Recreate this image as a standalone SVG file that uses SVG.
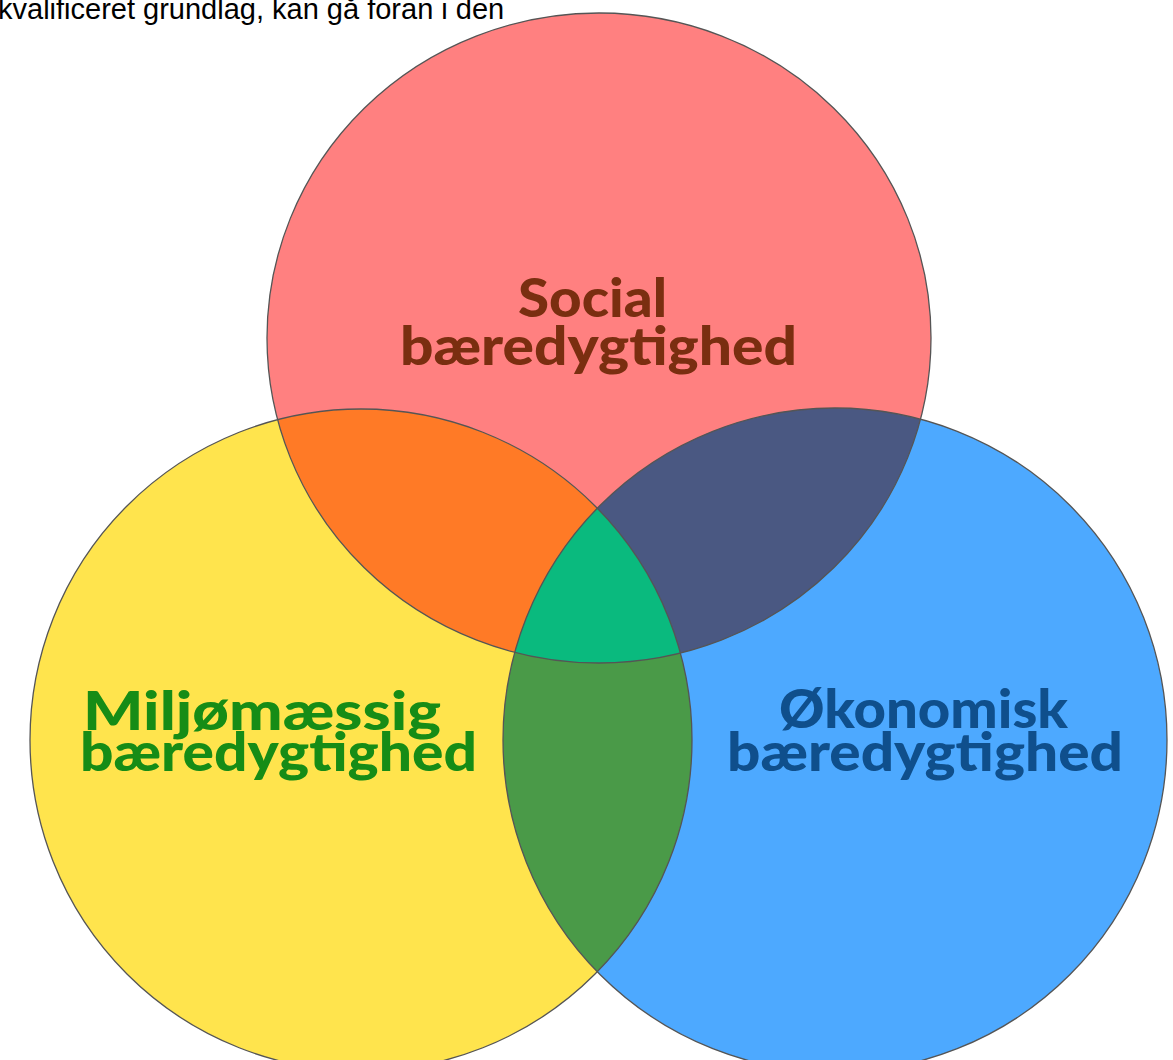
<svg xmlns="http://www.w3.org/2000/svg" width="1173" height="1060" viewBox="0 0 1173 1060">
  <style>
    .ring { fill: none; stroke: #555555; stroke-width: 1.3; }
    .label { font-family: Lato, "Open Sans", "Liberation Sans", sans-serif; font-weight: 900; font-size: 54px; text-anchor: middle; }
    .social { fill: #7a2e10; }
    .env { fill: #168c16; }
    .eco { fill: #0f4f8c; }
    .caption { font-family: "Liberation Sans", Arial, sans-serif; font-size: 29px; fill: #000; }
  </style>
  <defs>
    <ellipse id="c-social" cx="599" cy="338" rx="332" ry="325"/>
    <circle id="c-env" cx="361" cy="740" r="331"/>
    <circle id="c-eco" cx="835" cy="740" r="332"/>
    <clipPath id="clip-social"><use href="#c-social"/></clipPath>
    <clipPath id="clip-env"><use href="#c-env"/></clipPath>
    <clipPath id="clip-eco"><use href="#c-eco"/></clipPath>
  </defs>

  <rect width="1173" height="1060" fill="#ffffff"/>

  <text class="caption" x="-2" y="19">kvalificeret grundlag, kan gå foran i den</text>

  <!-- base discs -->
  <g id="node-social"><use href="#c-social" fill="#ff8080"/></g>
  <g id="node-env"><use href="#c-env" fill="#ffe44d"/></g>
  <g id="node-eco"><use href="#c-eco" fill="#4da9ff"/></g>

  <!-- pairwise and triple overlaps -->
  <g id="overlaps">
    <g clip-path="url(#clip-social)"><use href="#c-env" fill="#ff7a26"/></g>
    <g clip-path="url(#clip-social)"><use href="#c-eco" fill="#4a5882"/></g>
    <g clip-path="url(#clip-env)"><use href="#c-eco" fill="#4a9a48"/></g>
    <g clip-path="url(#clip-social)"><g clip-path="url(#clip-env)"><use href="#c-eco" fill="#0aba7e"/></g></g>
  </g>

  <!-- outlines -->
  <g id="outlines">
    <use href="#c-social" class="ring"/>
    <use href="#c-env" class="ring"/>
    <use href="#c-eco" class="ring"/>
  </g>

  <!-- labels -->
  <g id="label-social" class="label social">
    <text x="592.5" y="317" textLength="149" lengthAdjust="spacingAndGlyphs">Social</text>
    <text x="598.5" y="365" textLength="397" lengthAdjust="spacingAndGlyphs">bæredygtighed</text>
  </g>
  <g id="label-env" class="label env">
    <text x="262" y="730" textLength="358" lengthAdjust="spacingAndGlyphs">Miljømæssig</text>
    <text x="278.5" y="771" textLength="397" lengthAdjust="spacingAndGlyphs">bæredygtighed</text>
  </g>
  <g id="label-eco" class="label eco">
    <text x="923.5" y="728" textLength="289" lengthAdjust="spacingAndGlyphs">Økonomisk</text>
    <text x="925" y="771" textLength="396" lengthAdjust="spacingAndGlyphs">bæredygtighed</text>
  </g>
</svg>
